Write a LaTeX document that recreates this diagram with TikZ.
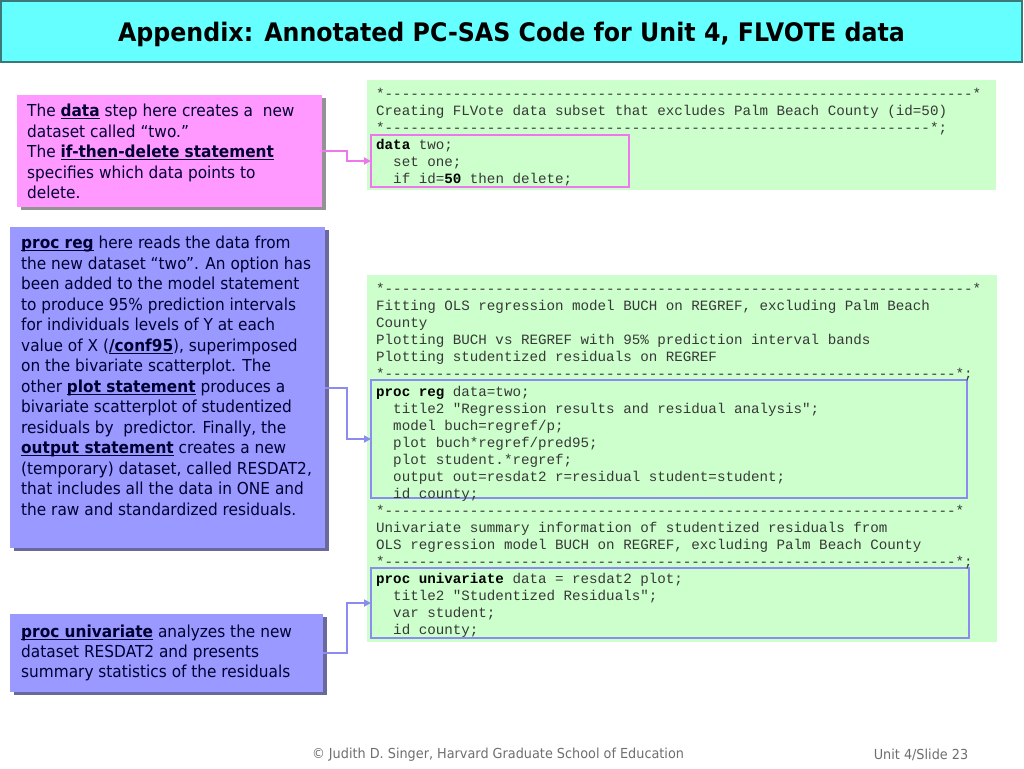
\documentclass[tikz,border=0pt]{standalone}
\usepackage{fontspec}
\setmainfont{DejaVu Sans}[FakeStretch=0.93]
\setmonofont{Liberation Mono}
\usetikzlibrary{arrows.meta,calc,shadows}
\definecolor{titlecyan}{HTML}{66FFFF}
\definecolor{titleedge}{HTML}{3C7878}
\definecolor{pinkfill}{HTML}{FF99FF}
\definecolor{bluefill}{HTML}{9999FF}
\definecolor{codegreen}{HTML}{CCFFCC}
\definecolor{pinkline}{HTML}{EE77EE}
\definecolor{blueline}{HTML}{8C8CF0}
\definecolor{navytext}{HTML}{000033}
\definecolor{codetext}{HTML}{383838}
\definecolor{foottext}{HTML}{6E6E6E}
\ExplSyntaxOn
\cs_new:Npn \dashrun #1 { \prg_replicate:nn {#1} {-} }
\ExplSyntaxOff
\newcommand\codeind{\phantom{xx}}
\newsavebox\ulbbox
\newcommand\ulb[1]{\sbox\ulbbox{\textbf{#1}}\rlap{\rule[-2.6pt]{\wd\ulbbox}{1.3pt}}\usebox\ulbbox}
\begin{document}
\begin{tikzpicture}[x=1pt,y=-1pt,
  panel/.style={anchor=north west, inner sep=0pt, outer sep=0pt},
  pinkpanel/.style={panel, fill=pinkfill, drop shadow={shadow xshift=4pt, shadow yshift=-3pt, fill=gray!85, opacity=1}},
  bluepanel/.style={panel, fill=bluefill, drop shadow={shadow xshift=4pt, shadow yshift=-3pt, fill=black!35!bluefill!80!gray, opacity=1}},
  greenpanel/.style={panel, fill=codegreen},
  outlinebox/.style={panel, line width=2pt},
  notetext/.style={anchor=north west, inner sep=0pt, align=left, text=navytext, font=\fontsize{16.5}{20.5}\selectfont},
  codetxt/.style={anchor=north west, inner sep=0pt, align=left, text=codetext, font=\fontsize{14.2}{17.05}\selectfont\ttfamily},
  link/.style={line width=2pt, -{Triangle[length=7pt,width=7pt]}},
]
\useasboundingbox (0,0) rectangle (1024,768);

% title bar
\node[panel, fill=titlecyan, draw=titleedge, line width=1.2pt, minimum width=1021pt, minimum height=61pt] (titlebar) at (1,1) {};
\node[font=\fontsize{25.5}{30}\selectfont\bfseries] (title) at ($(titlebar.center)+(0,3)$) {Appendix: Annotated PC-SAS Code for Unit 4, FLVOTE data};

% green code panels
\node[greenpanel, minimum width=629pt, minimum height=110pt] (greenA) at (367,80) {};
\node[greenpanel, minimum width=630pt, minimum height=367pt] (greenB) at (367,275) {};

% outline boxes
\node[outlinebox, draw=pinkline, minimum width=258pt, minimum height=52pt] (dataout) at (371,135) {};
\node[outlinebox, draw=blueline, minimum width=596pt, minimum height=118pt] (regout) at (371,380) {};
\node[outlinebox, draw=blueline, minimum width=598pt, minimum height=70pt] (uniout) at (371,568) {};

% code text
\node[codetxt] (codeA) at (376,85.5) {\rule{0pt}{13pt}*\dashrun{69}*\\
Creating FLVote data subset that excludes Palm Beach County (id=50)\\
*\dashrun{64}*;\\
\textcolor{black}{\textbf{data}} two;\\
\codeind set one;\\
\codeind if id=\textcolor{black}{\textbf{50}} then delete;};

\node[codetxt] (codeB) at (376,280.5) {\rule{0pt}{13pt}*\dashrun{69}*\\
Fitting OLS regression model BUCH on REGREF, excluding Palm Beach\\
County\\
Plotting BUCH vs REGREF with 95\% prediction interval bands\\
Plotting studentized residuals on REGREF\\
*\dashrun{67}*;\\
\textcolor{black}{\textbf{proc reg}} data=two;\\
\codeind title2 "Regression results and residual analysis";\\
\codeind model buch=regref/p;\\
\codeind plot buch*regref/pred95;\\
\codeind plot student.*regref;\\
\codeind output out=resdat2 r=residual student=student;\\
\codeind id county;\\
*\dashrun{67}*\\
Univariate summary information of studentized residuals from\\
OLS regression model BUCH on REGREF, excluding Palm Beach County\\
*\dashrun{67}*;\\
\textcolor{black}{\textbf{proc univariate}} data = resdat2 plot;\\
\codeind title2 "Studentized Residuals";\\
\codeind var student;\\
\codeind id county;};

% note panels
\node[pinkpanel, minimum width=305pt, minimum height=112pt] (datanote) at (17,95) {};
\node[notetext] (datatext) at (27,102.5) {\rule{0pt}{14pt}The \ulb{data} step here creates a \ new\\
dataset called “two.”\\
The \ulb{if-then-delete statement}\\
specifies which data points to\\
delete.};

\node[bluepanel, minimum width=315pt, minimum height=321pt] (regnote) at (10,227) {};
\node[notetext] (regtext) at (21,234.5) {\rule{0pt}{14pt}\ulb{proc reg} here reads the data from\\
the new dataset “two”. An option has\\
been added to the model statement\\
to produce 95\% prediction intervals\\
for individuals levels of Y at each\\
value of X (\ulb{/conf95}), superimposed\\
on the bivariate scatterplot. The\\
other \ulb{plot statement} produces a\\
bivariate scatterplot of studentized\\
residuals by \ predictor. Finally, the\\
\ulb{output statement} creates a new\\
(temporary) dataset, called RESDAT2,\\
that includes all the data in ONE and\\
the raw and standardized residuals.};

\node[bluepanel, minimum width=313pt, minimum height=78pt] (uninote) at (10,614) {};
\node[notetext, font=\fontsize{16.5}{20}\selectfont] (unitext) at (21,623.5) {\rule{0pt}{14pt}\ulb{proc univariate} analyzes the new\\
dataset RESDAT2 and presents\\
summary statistics of the residuals};

% connectors
\coordinate (elbow) at (347,0);
\draw[link, draw=pinkline] (datanote.east) -- (datanote.east -| elbow) |- (dataout.west);
\draw[link, draw=blueline] (regnote.east) -- (regnote.east -| elbow) |- (regout.west);
\draw[link, draw=blueline] (uninote.east) -- (uninote.east -| elbow) |- (uniout.west);

% footer
\node[text=foottext, font=\fontsize{13.8}{16}\selectfont] (credit) at (498,755) {© Judith D. Singer, Harvard Graduate School of Education};
\node[text=foottext, font=\fontsize{13.8}{16}\selectfont] (slideno) at (921,755) {Unit 4/Slide 23};
\end{tikzpicture}
\end{document}
